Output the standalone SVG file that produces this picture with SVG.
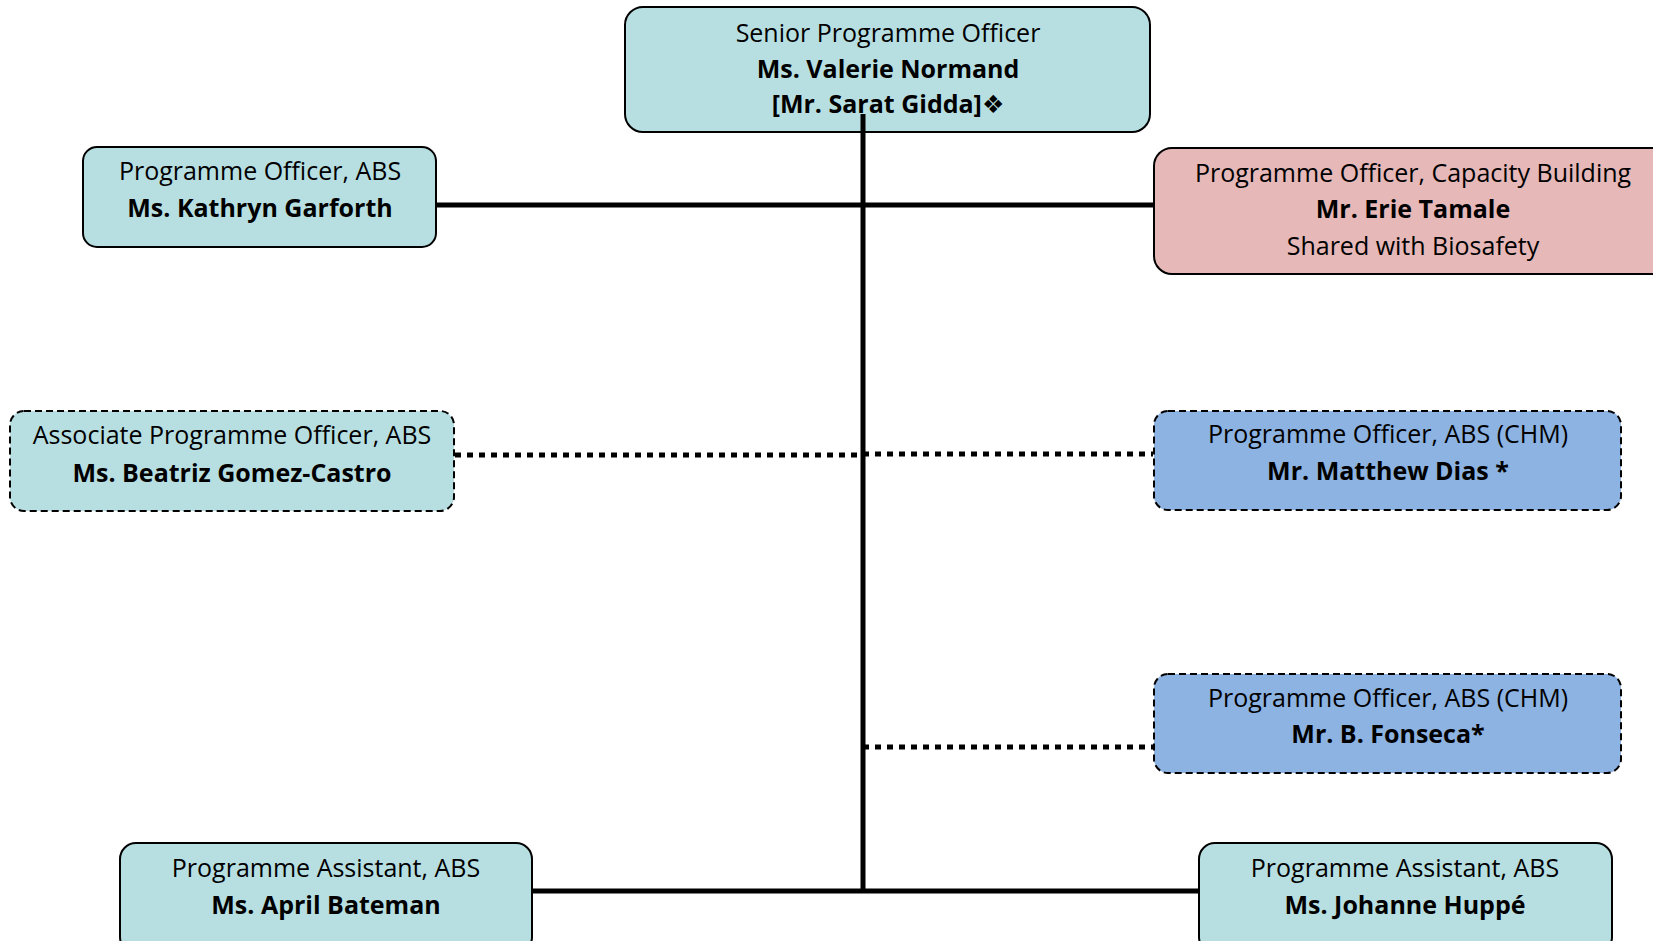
<svg xmlns="http://www.w3.org/2000/svg" width="1653" height="941" viewBox="0 0 1653 941">
<style>
.box{stroke:#000;stroke-width:2}
.teal{fill:#b7dfe2}
.pink{fill:#e6b8b8}
.blue{fill:#8db3e2}
.dash{stroke-dasharray:7 4}
text{font-family:"Open Sans","Liberation Sans",sans-serif;font-size:25px;fill:#000;text-anchor:middle}
.b{font-weight:bold}
.solid{stroke:#000;stroke-width:5;fill:none}
.dot{stroke:#000;stroke-width:5;fill:none;stroke-dasharray:6 6}
</style>
<rect width="1653" height="941" fill="#fff"/>
<g id="senior">
<rect class="box teal" x="625" y="7" width="525" height="125" rx="18"/>
<text x="888" y="42">Senior Programme Officer</text>
<text x="888" y="78" class="b">Ms. Valerie Normand</text>
<text x="888" y="113" class="b">[Mr. Sarat Gidda]<tspan style="font-family:'DejaVu Sans',sans-serif;font-weight:normal">❖</tspan></text>
</g>
<g id="po-abs">
<rect class="box teal" x="83" y="147" width="353" height="100" rx="14"/>
<text x="260" y="180">Programme Officer, ABS</text>
<text x="260" y="217" class="b">Ms. Kathryn Garforth</text>
</g>
<g id="po-cb">
<rect class="box pink" x="1154" y="148" width="520" height="126" rx="18"/>
<text x="1413" y="182">Programme Officer, Capacity Building</text>
<text x="1413" y="218" class="b">Mr. Erie Tamale</text>
<text x="1413" y="255">Shared with Biosafety</text>
</g>
<g id="apo-abs">
<rect class="box teal dash" x="10" y="411" width="444" height="100" rx="14"/>
<text x="232" y="444">Associate Programme Officer, ABS</text>
<text x="232" y="482" class="b">Ms. Beatriz Gomez-Castro</text>
</g>
<g id="po-chm-dias">
<rect class="box blue dash" x="1154" y="411" width="467" height="99" rx="14"/>
<text x="1388" y="443">Programme Officer, ABS (CHM)</text>
<text x="1388" y="480" class="b">Mr. Matthew Dias *</text>
</g>
<g id="po-chm-fonseca">
<rect class="box blue dash" x="1154" y="674" width="467" height="99" rx="14"/>
<text x="1388" y="707">Programme Officer, ABS (CHM)</text>
<text x="1388" y="743" class="b">Mr. B. Fonseca*</text>
</g>
<g id="pa-bateman">
<rect class="box teal" x="120" y="843" width="412" height="110" rx="16"/>
<text x="326" y="877">Programme Assistant, ABS</text>
<text x="326" y="914" class="b">Ms. April Bateman</text>
</g>
<g id="pa-huppe">
<rect class="box teal" x="1199" y="843" width="413" height="110" rx="16"/>
<text x="1405" y="877">Programme Assistant, ABS</text>
<text x="1405" y="914" class="b">Ms. Johanne Huppé</text>
</g>
<g id="connectors">
<line class="solid" x1="863" y1="114" x2="863" y2="893"/>
<line class="solid" x1="437" y1="205" x2="1153" y2="205"/>
<line class="dot" x1="455" y1="455" x2="863" y2="455"/>
<line class="dot" x1="863" y1="454" x2="1153" y2="454"/>
<line class="dot" x1="863" y1="747" x2="1153" y2="747"/>
<line class="solid" x1="533" y1="891" x2="1198" y2="891"/>
</g>
</svg>
